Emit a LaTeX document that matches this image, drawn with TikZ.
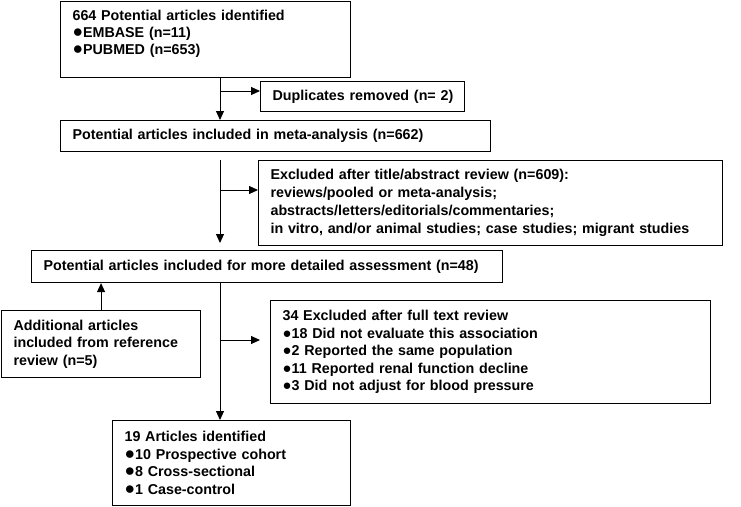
\documentclass[tikz,border=0pt]{standalone}
\usepackage{fontspec}
\setmainfont{Liberation Sans}
\usetikzlibrary{arrows.meta,calc}
\newcommand{\bigbul}{\smash{\scalebox{1.22}{●}}}
\newcommand{\smbul}{\smash{\scalebox{1.05}{●}}}
\begin{document}
\begin{tikzpicture}[x=1pt,y=-1pt,
  box/.style={draw=black, line width=1.1pt, anchor=north west, align=left,
    inner xsep=12pt, inner ysep=0pt,
    font=\bfseries\fontsize{14.3}{17.5}\selectfont},
  arr/.style={line width=1pt, -{Triangle[length=9pt,width=8pt]}}]
\useasboundingbox (0,0) rectangle (741,506);

\node[box, text width=266pt, minimum height=76pt,
      font=\bfseries\fontsize{14.3}{16.8}\selectfont] (b1) at (60,1)
  {664 Potential articles identified\\
   \bigbul EMBASE (n=11)\\
   \bigbul PUBMED (n=653)\rule[-14pt]{0pt}{0pt}};
\node[box, text width=180pt, minimum height=30pt] (dup) at (260,81)
  {\mbox{Duplicates removed (n=~2)}};
\node[box, text width=406pt, minimum height=31pt] (b3) at (60,120)
  {\mbox{Potential articles included in meta-analysis (n=662)}};
\node[box, text width=440pt, minimum height=85pt,
      font=\bfseries\fontsize{14.3}{18}\selectfont] (excl) at (258,160)
  {Excluded after title/abstract review (n=609):\\
   reviews/pooled or meta-analysis;\\
   abstracts/letters/editorials/commentaries;\\
   \mbox{in vitro, and/or animal studies; case studies; migrant studies}};
\node[box, text width=447pt, minimum height=32pt] (b4) at (31,250)
  {\mbox{Potential articles included for more detailed assessment (n=48)}};
\node[box, text width=175pt, minimum height=67pt] (add) at (1,310)
  {Additional articles\\
   \mbox{included from reference}\\
   review (n=5)};
\node[box, text width=416pt, minimum height=103pt] (ex2) at (270,300)
  {34 Excluded after full text review\\
   \smbul18 Did not evaluate this association\\
   \smbul2 Reported the same population\\
   \smbul11 Reported renal function decline\\
   \smbul3 Did not adjust for blood pressure};
\node[box, text width=214pt, minimum height=85pt] (b19) at (112,420)
  {19 Articles identified\\
   \bigbul10 Prospective cohort\\
   \bigbul8 Cross-sectional\\
   \bigbul1 Case-control};

\coordinate (colx) at (220,0);
\coordinate (br1) at (220,91);
\coordinate (br2) at (220,190);
\coordinate (br3) at (220,340);

\draw[arr] (b1.south -| colx) -- (b3.north -| colx);
\draw[arr] (br1) -- (br1 -| dup.west);
\draw[arr, shorten >=7pt] (excl.north -| colx) -- (b4.north -| colx);
\draw[arr] (br2) -- (br2 -| excl.west);
\draw[arr] (add.north) -- (add.north |- b4.south);
\draw[arr] (b4.south -| colx) -- (b19.north -| colx);
\draw[arr, shorten >=10pt] (br3) -- (br3 -| ex2.west);
\end{tikzpicture}
\end{document}
